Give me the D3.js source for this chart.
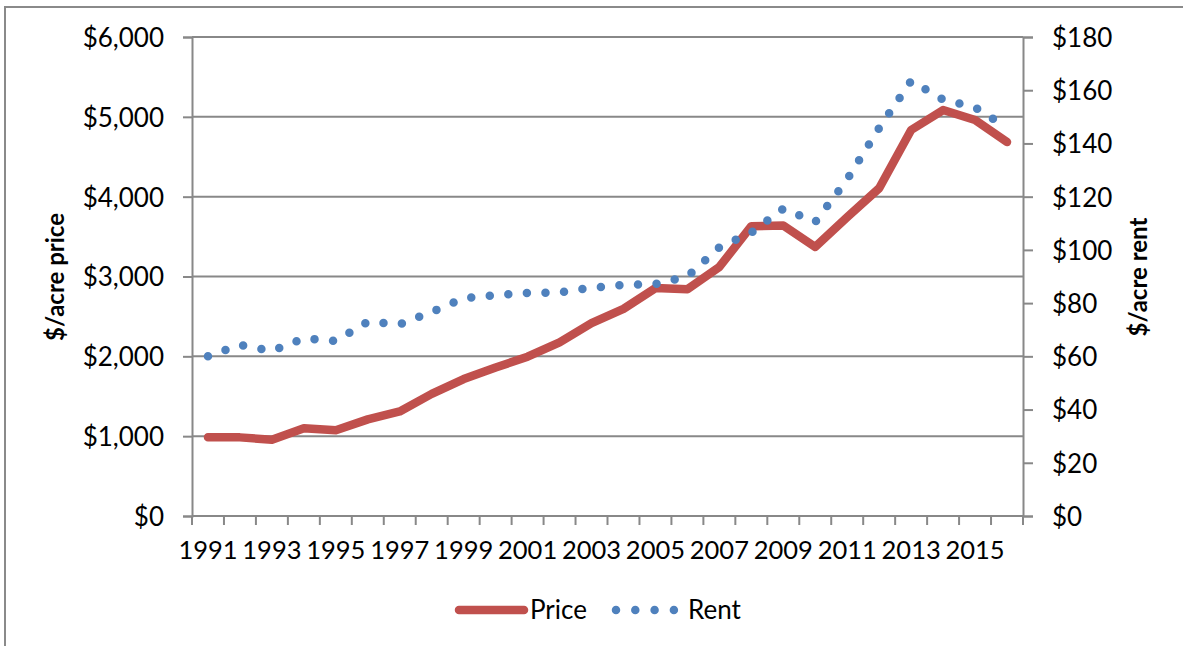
<!DOCTYPE html>
<html>
<head>
<meta charset="utf-8">
<script src="https://cdn.jsdelivr.net/npm/d3@7"></script>
<style>
  html, body { margin: 0; padding: 0; background: #fff; }
  svg { display: block; font-family: Lato, "Open Sans", sans-serif; }
</style>
</head>
<body>
<svg id="chart" width="1183" height="646"></svg>
<script>
// values
const years = d3.range(1991, 2017)
const price = [985, 985, 955, 1100, 1075, 1210, 1310, 1530, 1715, 1860, 1995, 2175, 2415, 2595,
               2855, 2840, 3120, 3630, 3640, 3370, 3745, 4105, 4835, 5085, 4960, 4685]
const rent = [60, 64.3, 62, 66.8, 65.8, 73, 72, 76.7, 81.8, 83, 83.8, 84, 85.8, 86.8,
              87.2, 90, 101, 106.5, 115.5, 110.5, 126.5, 145.8, 163.5, 156.5, 153.5, 146]
const priceTicks = [0, 1000, 2000, 3000, 4000, 5000, 6000]
const rentTicks = [0, 20, 40, 60, 80, 100, 120, 140, 160, 180]
const yearLabels = years.filter((d, i) => i % 2 === 0)

const red = '#C0504D', blue = '#4F81BD', grid = '#888888'
const plotL = 192, plotR = 1023, plotT = 37, plotB = 516

const svg = d3.select('#chart')

// frame round the chart (only top and left edges show)
svg.append('path')
  .attr('d', 'M5,646 V7 H1183')
  .attr('fill', 'none').attr('stroke', '#8a8a8a').attr('stroke-width', 2)

const x = d3.scaleBand().domain(years).range([plotL, plotR]).padding(0)
const yP = d3.scaleLinear().domain([0, 6000]).range([plotB, plotT])
const yR = d3.scaleLinear().domain([0, 180]).range([plotB, plotT])
const cx = d => x(d) + x.bandwidth() / 2

// gridlines
svg.append('g').selectAll('line').data(priceTicks.slice(1)).join('line')
  .attr('x1', plotL).attr('x2', plotR)
  .attr('y1', d => yP(d)).attr('y2', d => yP(d))
  .attr('stroke', grid).attr('stroke-width', 2)

// left axis
const yAxisL = d3.axisLeft(yP).tickValues(priceTicks).tickSize(9).tickPadding(19)
  .tickFormat(d => '$' + d3.format(',')(d))
const gL = svg.append('g').attr('transform', `translate(${plotL},0)`).call(yAxisL)

// right axis
const yAxisR = d3.axisRight(yR).tickValues(rentTicks).tickSize(10).tickPadding(19)
  .tickFormat(d => '$' + d)
const gR = svg.append('g').attr('transform', `translate(${plotR},0)`).call(yAxisR)

// bottom axis: labels every other year, ticks between categories
const xAxis = d3.axisBottom(x).tickValues(yearLabels).tickSize(0).tickPadding(28)
const gX = svg.append('g').attr('transform', `translate(0,${plotB})`).call(xAxis)
gX.selectAll('.tick line').remove()
gX.append('g').selectAll('line').data(years.map(d => x(d)).concat([plotR])).join('line')
  .attr('x1', d => d).attr('x2', d => d).attr('y1', 0).attr('y2', 9)

;[gL, gR, gX].forEach(g => {
  g.attr('font-family', null).attr('font-size', null)
  g.select('.domain').attr('stroke', grid).attr('stroke-width', 2)
  g.selectAll('line').attr('stroke', grid).attr('stroke-width', 2)
  g.selectAll('text').attr('fill', '#000').style('font-size', '26px')
})
gL.selectAll('text').attr('dy', '0.36em')
gR.selectAll('text').attr('dy', '0.36em')
gX.selectAll('text').style('font-size', '25.5px').attr('dy', '0.6em')
gX.select('.domain').attr('d', `M${plotL},0H${plotR}`)

// axis titles
svg.append('text')
  .attr('transform', 'translate(64,277) rotate(-90)')
  .attr('text-anchor', 'middle')
  .style('font-size', '24px').style('font-weight', 'bold')
  .text('$/acre price')
svg.append('text')
  .attr('transform', 'translate(1147,277) rotate(-90)')
  .attr('text-anchor', 'middle')
  .style('font-size', '24px').style('font-weight', 'bold')
  .text('$/acre rent')

// series
const linePrice = d3.line().x((d, i) => cx(years[i])).y(d => yP(d))
const lineRent = d3.line().x((d, i) => cx(years[i])).y(d => yR(d))

svg.append('path').datum(price)
  .attr('d', linePrice)
  .attr('fill', 'none').attr('stroke', red).attr('stroke-width', 8.5)
  .attr('stroke-linejoin', 'round').attr('stroke-linecap', 'round')

svg.append('path').datum(rent)
  .attr('d', lineRent)
  .attr('fill', 'none').attr('stroke', blue).attr('stroke-width', 8.5)
  .attr('stroke-linecap', 'round').attr('stroke-dasharray', '0 18.6')

// legend
const lg = svg.append('g')
lg.append('line').attr('x1', 459).attr('x2', 524).attr('y1', 610).attr('y2', 610)
  .attr('stroke', red).attr('stroke-width', 8.5).attr('stroke-linecap', 'round')
lg.append('text').attr('x', 530).attr('y', 610).attr('dy', '0.36em')
  .style('font-size', '26px').text('Price')
lg.append('line').attr('x1', 616).attr('x2', 676).attr('y1', 610).attr('y2', 610)
  .attr('stroke', blue).attr('stroke-width', 8.5).attr('stroke-linecap', 'round')
  .attr('stroke-dasharray', '0 19.3')
lg.append('text').attr('x', 688).attr('y', 610).attr('dy', '0.36em')
  .style('font-size', '26px').text('Rent')
</script>
</body>
</html>
